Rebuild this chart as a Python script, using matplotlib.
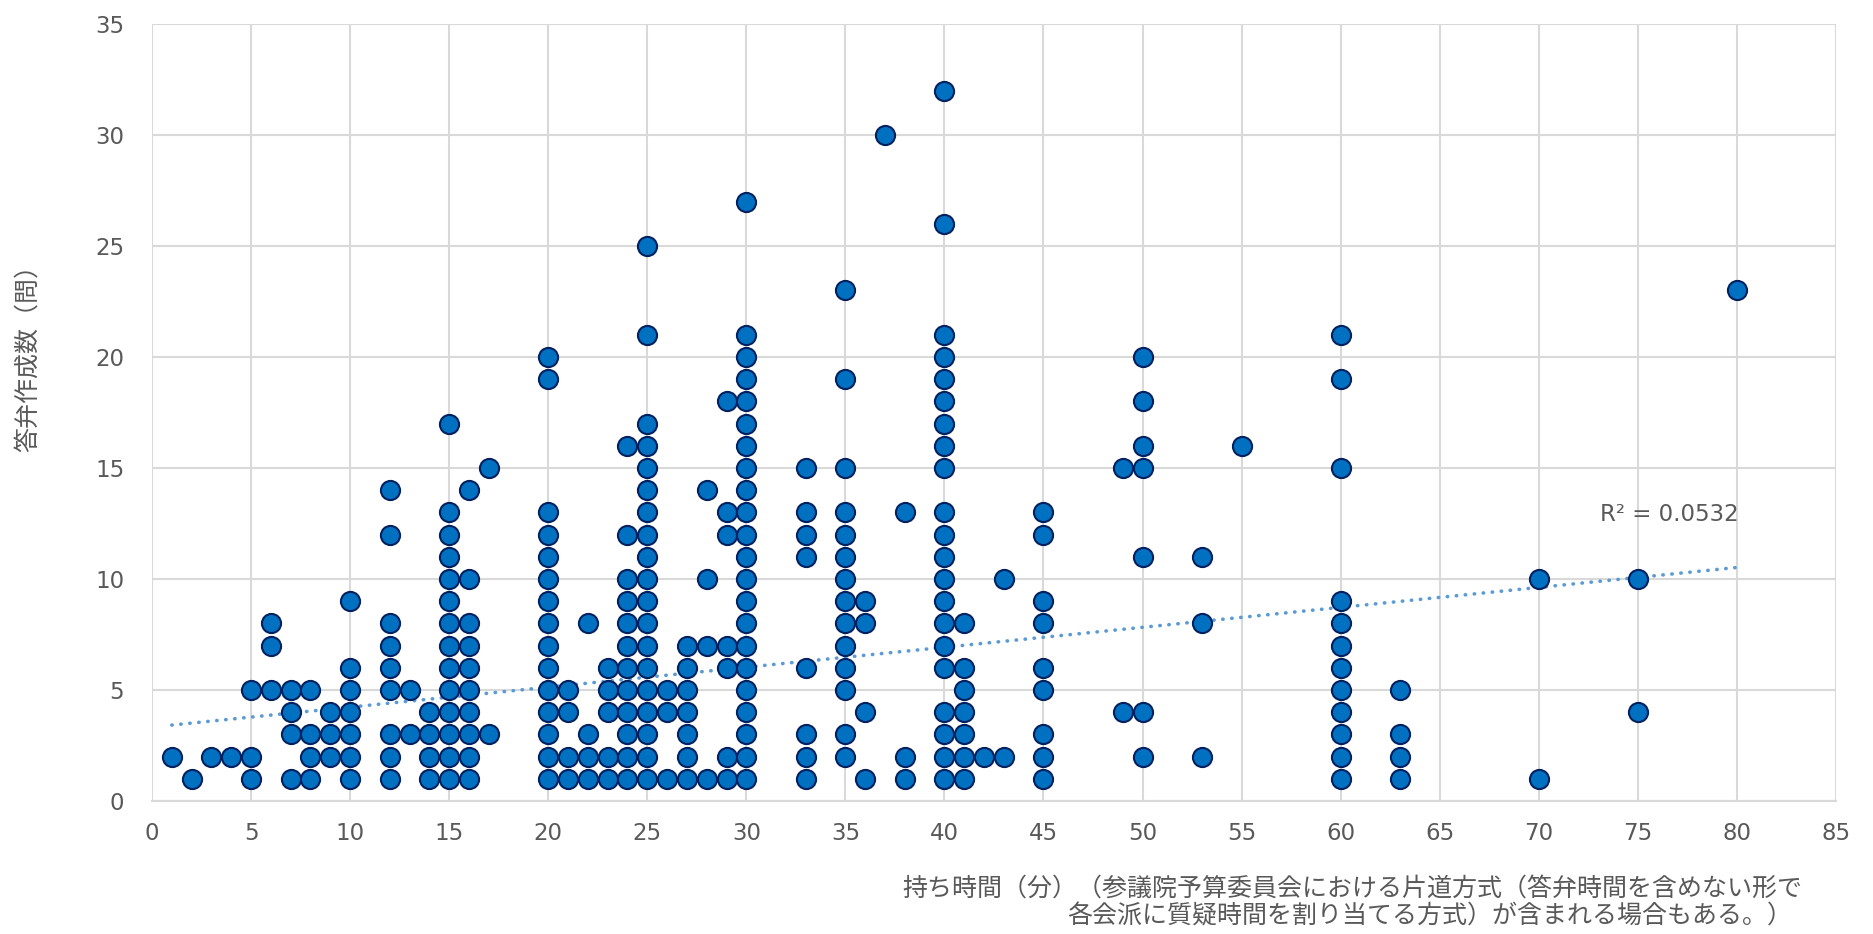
import numpy as np
import matplotlib
matplotlib.use("Agg")
import matplotlib.pyplot as plt

# 持ち時間（分）ごとの答弁作成数（問）
minutes = [1, 2, 3, 4, 5, 6, 7, 8, 9, 10, 12, 13, 14, 15, 16, 17, 20, 21, 22, 23,
           24, 25, 26, 27, 28, 29, 30, 33, 35, 36, 37, 38, 40, 41, 42, 43, 45, 49,
           50, 53, 55, 60, 63, 70, 75, 80]
answers = [
    [2], [1], [2], [2], [1, 2, 5], [5, 7, 8], [1, 3, 4, 5], [1, 2, 3, 5], [2, 3, 4],
    [1, 2, 3, 4, 5, 6, 9],
    [1, 2, 3, 5, 6, 7, 8, 12, 14],
    [3, 5],
    [1, 2, 3, 4],
    [1, 2, 3, 4, 5, 6, 7, 8, 9, 10, 11, 12, 13, 17],
    [1, 2, 3, 4, 5, 6, 7, 8, 10, 14],
    [3, 15],
    [1, 2, 3, 4, 5, 6, 7, 8, 9, 10, 11, 12, 13, 19, 20],
    [1, 2, 4, 5],
    [1, 2, 3, 8],
    [1, 2, 4, 5, 6],
    [1, 2, 3, 4, 5, 6, 7, 8, 9, 10, 12, 16],
    [1, 2, 3, 4, 5, 6, 7, 8, 9, 10, 11, 12, 13, 14, 15, 16, 17, 21, 25],
    [1, 4, 5],
    [1, 2, 3, 4, 5, 6, 7],
    [1, 7, 10, 14],
    [1, 2, 6, 7, 12, 13, 18],
    [1, 2, 3, 4, 5, 6, 7, 8, 9, 10, 11, 12, 13, 14, 15, 16, 17, 18, 19, 20, 21, 27],
    [1, 2, 3, 6, 11, 12, 13, 15],
    [2, 3, 5, 6, 7, 8, 9, 10, 11, 12, 13, 15, 19, 23],
    [1, 4, 8, 9],
    [30],
    [1, 2, 13],
    [1, 2, 3, 4, 6, 7, 8, 9, 10, 11, 12, 13, 15, 16, 17, 18, 19, 20, 21, 26, 32],
    [1, 2, 3, 4, 5, 6, 8],
    [2],
    [2, 10],
    [1, 2, 3, 5, 6, 8, 9, 12, 13],
    [4, 15],
    [2, 4, 11, 15, 16, 18, 20],
    [2, 8, 11],
    [16],
    [1, 2, 3, 4, 5, 6, 7, 8, 9, 15, 19, 21],
    [1, 2, 3, 5],
    [1, 10],
    [4, 10],
    [23],
]
# 近似直線の両端
trend_x = [1, 80]
trend_y = [3.42, 10.52]
r2_label = "R² = 0.0532"
xlabel_1 = "持ち時間（分）（参議院予算委員会における片道方式（答弁時間を含めない形で"
xlabel_2 = "各会派に質疑時間を割り当てる方式）が含まれる場合もある。）"
ylabel = "答弁作成数（問）"

x = np.array([m for m, ys in zip(minutes, answers) for _ in ys], dtype=float)
y = np.array([v for ys in answers for v in ys], dtype=float)

grey = "#595959"
jp = ["Noto Sans CJK JP", "DejaVu Sans"]

fig = plt.figure(figsize=(18.74, 9.34), dpi=100)
ax = fig.add_axes([0.0811, 0.1424, 0.8986, 0.8319])

ax.set_xlim(0, 85)
ax.set_ylim(0, 35)
ax.set_xticks(np.arange(0, 86, 5))
ax.set_yticks(np.arange(0, 36, 5))
ax.grid(True, color="#d9d9d9", linewidth=1.5)
ax.set_axisbelow(True)
for side in ["top", "right", "left"]:
    ax.spines[side].set_visible(False)
ax.spines["bottom"].set_color("#d9d9d9")
ax.spines["bottom"].set_linewidth(1.5)
ax.tick_params(length=0, labelsize=16.5, labelcolor=grey)
ax.tick_params(axis="x", pad=15)
ax.tick_params(axis="y", pad=20)

ax.plot(trend_x, trend_y, color="#5B9BD5", linewidth=2.6,
        linestyle=(0, (0.1, 2.4)), dash_capstyle="round", zorder=2)

ax.scatter(x, y, s=190, color="#0070C0", edgecolor="#002060",
           linewidth=1.5, zorder=3, clip_on=False)

ax.text(76.6, 12.9, r2_label, fontsize=16.5, color=grey,
        ha="center", va="center")

fig.text(28 / 1874, 1 - 352 / 934, ylabel, fontsize=18, color=grey,
         family=jp, rotation=90, ha="center", va="center")

fig.text(902 / 1874, 1 - 889 / 934, xlabel_1, fontsize=18, color=grey,
         family=jp, ha="left", va="center")
fig.text(1067 / 1874, 1 - 917 / 934, xlabel_2, fontsize=18, color=grey,
         family=jp, ha="left", va="center")

fig.savefig("out.png", dpi=100)
